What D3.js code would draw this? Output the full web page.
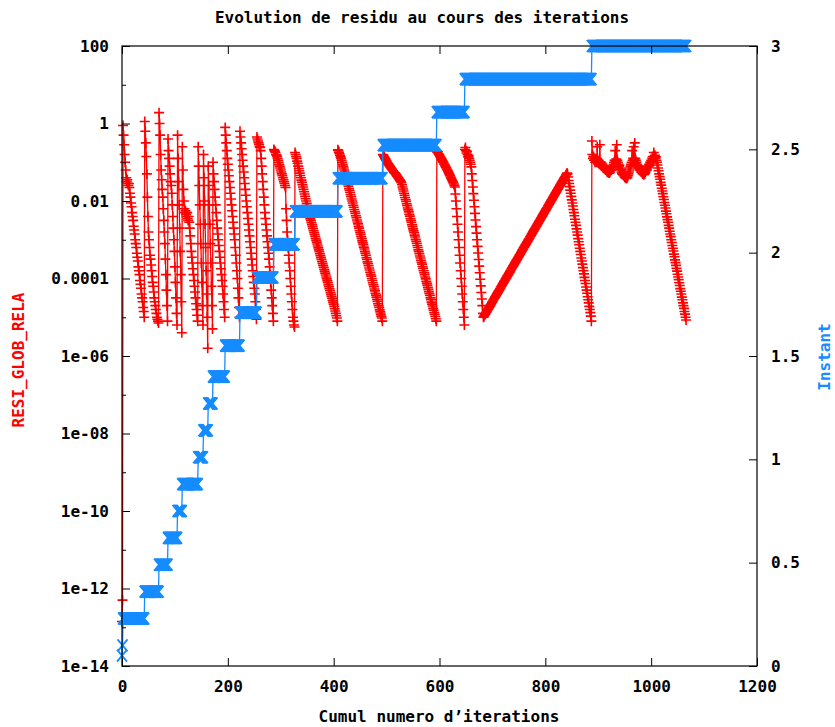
<html lang="fr">
<head>
    <meta charset="UTF-8">
    <title>Evolution de residu au cours des iterations</title>
    <script src="https://cdn.jsdelivr.net/npm/d3@7"></script>
    <style>
        body { margin: 0; background: white; }
        text { font-family: "DejaVu Sans Mono", monospace; font-weight: bold; }
    </style>
</head>
<body>
<script>
    // instant (right axis) of each time step
    let instants = [0.05, 0.1, 0.23, 0.36, 0.49, 0.62, 0.75, 0.88, 1.01, 1.14, 1.27,
                    1.40, 1.55, 1.71, 1.88, 2.04, 2.20, 2.36, 2.52, 2.68, 2.84, 3.00]

    // log10(RESI_GLOB_RELA), one value per iteration, one list per time step
    let residus = [
        [-12.85],
        [-12.3],
        [-0.05,-0.3,-0.55,-0.8,-1.0,-1.2,-1.4,-1.5,-1.45,-1.55,-1.6,-1.55,-1.65,
         -1.8,-1.9,-2.05,-2.15,-2.3,-2.4,-2.5,-2.65,-2.75,-2.85,-3.0,-3.1,-3.2,-3.35,-3.45,-3.55,
         -3.7,-3.8,-3.9,-4.05,-4.15,-4.25,-4.4,-4.5,-4.6,-4.75,-4.85,-5.0],
        [0.05,-0.2,-0.5,-0.85,-1.3,-1.9,-2.4,-2.8,-3.0,-3.2,-3.4,-3.5,-3.65,-3.8,-3.95,-4.1,
         -4.2,-4.35,-4.5,-4.6,-4.7,-4.8,-4.9,-5.0,-5.05,-5.1,-5.15],
        [0.28,0.0,-0.3,-0.8,-1.2,-1.45,-1.7,-1.9,-2.2,-2.5,-2.8,-3.1,-3.5,-3.9,-4.3,-4.7,-5.1],
        [-0.4,-0.7,-0.9,-1.1,-1.3,-1.5,-1.6,-1.8,-2.1,-2.4,-2.7,-3.0,-3.3,-3.7,-4.1,-4.5,-4.9,-5.2],
        [-0.3,-0.9,-1.5,-2.1,-2.7,-3.3,-3.9,-4.6,-5.4],
        [-0.6,-1.2,-1.7,-2.0,-2.2,-2.3,-2.25,-2.35,-2.4,-2.3,-2.45,-2.5,-2.4,-2.55,-2.7,-2.9,
         -3.1,-3.3,-3.45,-3.6,-3.75,-3.9,-4.05,-4.2,-4.35,-4.5,-4.65,-4.8,-4.95,-5.1],
        [-0.6,-1.1,-1.6,-2.1,-2.6,-3.1,-3.6,-4.1,-4.7,-5.2],
        [-0.8,-1.4,-2.0,-2.6,-3.2,-3.8,-4.4,-5.0,-5.8],
        [-1.1,-1.6,-2.1,-2.6,-3.1,-3.6,-4.2,-4.7,-5.3],
        [-1.0,-1.3,-1.5,-1.7,-1.9,-2.1,-2.3,-2.5,-2.7,-2.85,-3.0,-3.15,-3.3,-3.45,-3.6,-3.75,
         -3.9,-4.05,-4.2,-4.4,-4.6,-4.8,-5.0],
        [-0.1,-0.3,-0.5,-0.7,-0.9,-1.05,-1.2,-1.35,-1.5,-1.65,-1.8,-1.95,-2.1,-2.25,-2.4,-2.55,
         -2.7,-2.85,-3.0,-3.2,-3.4,-3.6,-3.8,-4.0,-4.25,-4.5,-4.75,-5.0],
        [-0.2,-0.35,-0.5,-0.65,-0.8,-0.95,-1.1,-1.25,-1.4,-1.55,-1.7,-1.85,-2.0,-2.15,-2.3,-2.45,
         -2.6,-2.75,-2.9,-3.05,-3.2,-3.35,-3.5,-3.65,-3.8,-3.95,-4.1,-4.25,-4.4,-4.6,-4.8,-5.05],
        [-0.35,-0.4,-0.45,-0.5,-0.55,-0.6,-0.62,-0.7,-0.9,-1.1,-1.3,-1.5,-1.7,-1.9,-2.1,-2.3,
         -2.45,-2.6,-2.75,-2.9,-3.05,-3.2,-3.35,-3.5,-3.7,-3.9,-4.1,-4.3,-4.5,-4.7,-4.9,-5.1],
        [-0.67,-0.7,-0.72,-0.75,-0.8,-0.82,-0.85,-0.9,-0.95,-1.0,-1.05,-1.1,-1.15,-1.2,-1.25,
         -1.3,-1.35,-1.4,-1.45,-1.5,-1.55,-1.6,-1.65,-2.2,-2.5,-2.8,-3.0,-3.2,-3.4,-3.6,
         -3.8,-4.0,-4.2,-4.4,-4.6,-4.8,-5.0,-5.1,-5.2,-5.25],
        [-0.75,-0.8,-0.85,-0.9,-0.97,-1.03,-1.1,-1.16,-1.22,-1.28,-1.34,-1.4,-1.46,-1.52,-1.58,
         -1.64,-1.7,-1.76,-1.82,-1.88,-1.94,-2.0,-2.06,-2.12,-2.18,-2.24,-2.3,-2.36,-2.41,-2.46,
         -2.51,-2.56,-2.61,-2.66,-2.71,-2.76,-2.81,-2.86,-2.91,-2.96,-3.01,-3.06,-3.11,-3.16,
         -3.21,-3.26,-3.31,-3.36,-3.41,-3.46,-3.51,-3.56,-3.61,-3.66,-3.71,-3.76,-3.81,-3.86,
         -3.91,-3.96,-4.01,-4.06,-4.11,-4.16,-4.21,-4.26,-4.31,-4.36,-4.41,-4.46,-4.51,-4.56,
         -4.61,-4.66,-4.72,-4.78,-4.84,-4.9,-4.96,-5.02,-5.1],
        [-0.68,-0.7,-0.74,-0.78,-0.82,-0.86,-0.9,-0.95,-1.0,-1.05,-1.1,-1.15,-1.2,-1.25,-1.3,
         -1.35,-1.41,-1.46,-1.51,-1.57,-1.62,-1.68,-1.73,-1.78,-1.84,-1.89,-1.95,-2.0,-2.05,
         -2.11,-2.16,-2.22,-2.27,-2.32,-2.38,-2.43,-2.49,-2.54,-2.59,-2.65,-2.7,-2.76,-2.81,
         -2.86,-2.92,-2.97,-3.03,-3.08,-3.13,-3.19,-3.24,-3.3,-3.35,-3.4,-3.46,-3.51,-3.57,
         -3.62,-3.67,-3.73,-3.78,-3.84,-3.89,-3.94,-4.0,-4.05,-4.11,-4.16,-4.21,-4.27,-4.32,
         -4.38,-4.43,-4.48,-4.54,-4.59,-4.65,-4.7,-4.75,-4.81,-4.86,-4.92,-4.97,-5.02,-5.1],
        [-0.8,-0.82,-0.85,-0.87,-0.9,-0.92,-0.95,-0.97,-1.0,-1.02,-1.04,-1.06,-1.08,-1.1,-1.12,
         -1.14,-1.16,-1.18,-1.2,-1.22,-1.24,-1.26,-1.27,-1.28,-1.3,-1.32,-1.34,-1.36,-1.38,-1.4,
         -1.42,-1.44,-1.46,-1.48,-1.5,-1.53,
         -1.58,-1.64,-1.69,-1.74,-1.8,-1.85,-1.91,-1.96,-2.01,-2.07,-2.12,-2.18,-2.23,-2.28,
         -2.34,-2.39,-2.45,-2.5,-2.55,-2.61,-2.66,-2.72,-2.77,-2.82,-2.88,-2.93,-2.99,-3.04,
         -3.09,-3.15,-3.2,-3.26,-3.31,-3.36,-3.42,-3.47,-3.53,-3.58,-3.63,-3.69,-3.74,-3.8,
         -3.85,-3.9,-3.96,-4.01,-4.07,-4.12,-4.17,-4.23,-4.28,-4.34,-4.39,-4.44,-4.5,-4.55,
         -4.61,-4.66,-4.71,-4.77,-4.82,-4.88,-4.93,-4.98,-5.04,-5.1],
        [-0.72,-0.75,-0.73,-0.78,-0.8,-0.82,-0.85,-0.87,-0.9,-0.92,-0.95,-0.97,-1.0,-1.02,-1.05,
         -1.07,-1.1,-1.13,-1.15,-1.18,-1.2,-1.23,-1.26,-1.29,-1.32,-1.35,-1.38,-1.41,-1.44,-1.47,
         -1.5,-1.53,-1.56,-1.6,-1.64,
         -1.82,-2.0,-2.2,-2.4,-2.6,-2.8,-3.0,-3.2,-3.4,-3.6,-3.8,-4.0,-4.2,-4.4,-4.6,-4.8,-5.0,-5.2],
        [-0.67,-0.62,-0.7,-0.76,-0.72,-0.8,-0.86,-0.83,-0.9,-0.95,-1.0,-1.05,-1.12,
         -1.3,-1.47,-1.64,-1.81,-1.98,-2.15,-2.32,-2.49,-2.66,-2.83,-3.0,-3.17,-3.34,-3.51,
         -3.68,-3.85,-4.02,-4.19,-4.36,-4.53,-4.7,-4.9,
         -5.0,-4.98,-4.95,-4.93,-4.91,-4.88,-4.86,-4.84,-4.81,-4.79,
         -4.77,-4.74,-4.72,-4.7,-4.67,-4.65,-4.62,-4.6,-4.58,-4.55,
         -4.53,-4.51,-4.48,-4.46,-4.44,-4.41,-4.39,-4.37,-4.34,-4.32,
         -4.3,-4.27,-4.25,-4.22,-4.2,-4.18,-4.15,-4.13,-4.11,-4.08,
         -4.06,-4.04,-4.01,-3.99,-3.97,-3.94,-3.92,-3.9,-3.87,-3.85,
         -3.83,-3.8,-3.78,-3.75,-3.73,-3.71,-3.68,-3.66,-3.64,-3.61,
         -3.59,-3.57,-3.54,-3.52,-3.5,-3.47,-3.45,-3.43,-3.4,-3.38,
         -3.36,-3.33,-3.31,-3.28,-3.26,-3.24,-3.21,-3.19,-3.17,-3.14,
         -3.12,-3.1,-3.07,-3.05,-3.03,-3.0,-2.98,-2.96,-2.93,-2.91,
         -2.89,-2.86,-2.84,-2.81,-2.79,-2.77,-2.74,-2.72,-2.7,-2.67,
         -2.65,-2.63,-2.6,-2.58,-2.56,-2.53,-2.51,-2.49,-2.46,-2.44,
         -2.42,-2.39,-2.37,-2.34,-2.32,-2.3,-2.27,-2.25,-2.23,-2.2,
         -2.18,-2.16,-2.13,-2.11,-2.09,-2.06,-2.04,-2.02,-1.99,-1.97,
         -1.95,-1.92,-1.9,-1.87,-1.85,-1.83,-1.8,-1.78,-1.76,-1.73,
         -1.71,-1.69,-1.66,-1.64,-1.62,-1.59,-1.57,-1.55,-1.52,-1.5,
         -1.48,-1.45,-1.43,-1.4,-1.38,-1.36,-1.33,-1.31,-1.28,
         -1.3,-1.38,-1.47,-1.55,-1.63,-1.72,-1.8,-1.88,-1.97,-2.05,
         -2.13,-2.22,-2.3,-2.38,-2.47,-2.55,-2.63,-2.72,-2.8,-2.88,
         -2.97,-3.05,-3.13,-3.22,-3.3,-3.38,-3.47,-3.55,-3.63,-3.72,
         -3.8,-3.88,-3.97,-4.05,-4.13,-4.22,-4.3,-4.38,-4.47,-4.55,
         -4.63,-4.72,-4.8,-4.88,-4.97,-5.1],
        [-0.45,-0.8,-0.9,-0.85,-0.95,-0.9,-1.0,
         -0.92,-1.0,-0.95,-0.6,-0.98,-1.02,-0.96,-1.05,-0.55,-1.0,-1.08,-1.02,-1.1,-1.05,
         -1.1,-1.12,-1.15,-1.1,-1.18,-1.2,-1.17,-1.22,-1.25,-1.2,-1.27,-1.24,-1.28,-1.25,
         -1.22,-1.18,-1.2,-1.14,-1.1,-1.12,-1.05,-1.0,-0.95,-0.7,-0.98,-0.92,-0.55,-0.95,
         -1.0,-1.05,-1.1,-1.08,-1.15,-1.2,-1.18,-1.25,-1.3,-1.27,-1.32,-1.35,-1.3,-1.38,-1.4,
         -1.36,-1.42,-1.38,-1.4,
         -1.35,-1.3,-1.25,-1.2,-1.15,-1.1,-1.05,-1.0,-0.7,-0.95,-0.9,-0.6,-0.92,-0.5,-0.9,
         -0.95,-1.0,-1.05,-1.08,-1.1,-1.15,-1.12,-1.18,-1.2,-1.22,-1.25,-1.2,-1.27,-1.3,-1.25,
         -1.32,-1.28,-1.3,-1.26,
         -1.22,-1.18,-1.2,-1.15,-1.1,-1.12,-1.05,-1.08,-1.0,-1.02,-0.95,-0.98,-0.9,-0.85,-0.92,
         -0.75,-0.88,-0.82,-0.9,-0.86,-0.95,
         -1.0,-1.07,-1.15,-1.22,-1.3,-1.37,-1.44,-1.52,-1.59,-1.67,
         -1.74,-1.81,-1.89,-1.96,-2.04,-2.11,-2.18,-2.26,-2.33,-2.41,
         -2.48,-2.55,-2.63,-2.7,-2.78,-2.85,-2.92,-3.0,-3.07,-3.15,
         -3.22,-3.29,-3.37,-3.44,-3.52,-3.59,-3.66,-3.74,-3.81,-3.89,
         -3.96,-4.03,-4.11,-4.18,-4.26,-4.33,-4.4,-4.48,-4.55,-4.63,
         -4.7,-4.77,-4.85,-4.92,-5.0,-5.07]
    ]

    let xTicks = [0, 200, 400, 600, 800, 1000, 1200]
    let xTickLabels = ["0", "200", "400", "600", "800", "1000", "1200"]
    let yTicks = [1e-14, 1e-12, 1e-10, 1e-8, 1e-6, 1e-4, 1e-2, 1, 100]
    let yTickLabels = ["1e-14", "1e-12", "1e-10", "1e-08", "1e-06", "0.0001", "0.01", "1", "100"]
    let yMinorTicks = [1e-13, 1e-11, 1e-9, 1e-7, 1e-5, 1e-3, 0.1, 10]
    let y2Ticks = [0, 0.5, 1, 1.5, 2, 2.5, 3]
    let y2TickLabels = ["0", "0.5", "1", "1.5", "2", "2.5", "3"]

    let red = '#ff0000'
    let blue = '#168cff'

    // one point per iteration (cumulative numbering)
    let points = []
    let n = 0
    instants.forEach(function (t, k) {
        residus[k].forEach(function (r) {
            points.push({iter: n, instant: t, resid: Math.pow(10, r)})
            n++
        })
    })

    let plotLeft = 122, plotRight = 757, plotTop = 46, plotBottom = 666

    let svg = d3.select('body').append('svg')
        .attr('width', 835)
        .attr('height', 727)
        .style('background-color', 'white')

    let x = d3.scaleLinear().domain([0, 1200]).range([plotLeft, plotRight])
    let y = d3.scaleLog().domain([1e-14, 100]).range([plotBottom, plotTop])
    let y2 = d3.scaleLinear().domain([0, 3]).range([plotBottom, plotTop])

    // red series: RESI_GLOB_RELA
    svg.append('path')
        .datum(points)
        .attr('fill', 'none')
        .attr('stroke', red)
        .attr('stroke-width', 1.3)
        .attr('d', d3.line().x(d => x(d.iter)).y(d => y(d.resid)))

    svg.append('g').selectAll('path')
        .data(points)
        .enter()
        .append('path')
        .attr('d', 'M-5,0H5M0,-5V5')
        .attr('transform', d => 'translate(' + x(d.iter) + ',' + y(d.resid) + ')')
        .attr('stroke', red)
        .attr('stroke-width', 1.6)

    // blue series: Instant
    svg.append('path')
        .datum(points)
        .attr('fill', 'none')
        .attr('stroke', blue)
        .attr('stroke-width', 1.3)
        .attr('d', d3.line().x(d => x(d.iter)).y(d => y2(d.instant)))

    svg.append('g').selectAll('path')
        .data(points)
        .enter()
        .append('path')
        .attr('d', 'M-5,-6L5,6M-5,6L5,-6')
        .attr('transform', d => 'translate(' + x(d.iter) + ',' + y2(d.instant) + ')')
        .attr('stroke', blue)
        .attr('stroke-width', 1.8)

    // axes
    function styleAxis(g) {
        g.select('.domain').remove()
        g.selectAll('line').attr('stroke', 'black')
        g.selectAll('text')
            .attr('fill', 'black')
            .style('font-size', '16px')
            .style('font-family', '"DejaVu Sans Mono", monospace')
            .style('font-weight', 'bold')
    }

    svg.append('g')
        .attr('transform', 'translate(0,' + plotBottom + ')')
        .call(d3.axisBottom(x).tickValues(xTicks).tickSizeInner(-8).tickSizeOuter(0).tickPadding(15)
            .tickFormat((d, i) => xTickLabels[i]))
        .call(styleAxis)

    svg.append('g')
        .attr('transform', 'translate(0,' + plotTop + ')')
        .call(d3.axisTop(x).tickValues(xTicks).tickSizeInner(-8).tickSizeOuter(0).tickFormat(''))
        .call(styleAxis)

    svg.append('g')
        .attr('transform', 'translate(' + plotLeft + ',0)')
        .call(d3.axisLeft(y).tickValues(yTicks).tickSizeInner(-8).tickSizeOuter(0).tickPadding(13)
            .tickFormat((d, i) => yTickLabels[i]))
        .call(styleAxis)

    svg.append('g')
        .attr('transform', 'translate(' + plotLeft + ',0)')
        .call(d3.axisLeft(y).tickValues(yMinorTicks).tickSizeInner(-4).tickSizeOuter(0).tickFormat(''))
        .call(styleAxis)

    svg.append('g')
        .attr('transform', 'translate(' + plotRight + ',0)')
        .call(d3.axisRight(y2).tickValues(y2Ticks).tickSizeInner(-8).tickSizeOuter(0).tickPadding(14)
            .tickFormat((d, i) => y2TickLabels[i]))
        .call(styleAxis)

    // frame
    svg.append('rect')
        .attr('x', plotLeft)
        .attr('y', plotTop)
        .attr('width', plotRight - plotLeft)
        .attr('height', plotBottom - plotTop)
        .attr('fill', 'none')
        .attr('stroke', 'black')
        .attr('stroke-width', 1.2)

    // titles
    svg.append('text')
        .attr('x', 422)
        .attr('y', 23)
        .attr('text-anchor', 'middle')
        .style('font-size', '16px')
        .text('Evolution de residu au cours des iterations')

    svg.append('text')
        .attr('x', 439)
        .attr('y', 722)
        .attr('text-anchor', 'middle')
        .style('font-size', '16px')
        .text("Cumul numero d\u2019iterations")

    svg.append('text')
        .attr('transform', 'translate(24,360) rotate(-90)')
        .attr('text-anchor', 'middle')
        .attr('fill', red)
        .style('font-size', '16px')
        .text('RESI_GLOB_RELA')

    svg.append('text')
        .attr('transform', 'translate(830,357) rotate(-90)')
        .attr('text-anchor', 'middle')
        .attr('fill', blue)
        .style('font-size', '16px')
        .text('Instant')
</script>
</body>
</html>
